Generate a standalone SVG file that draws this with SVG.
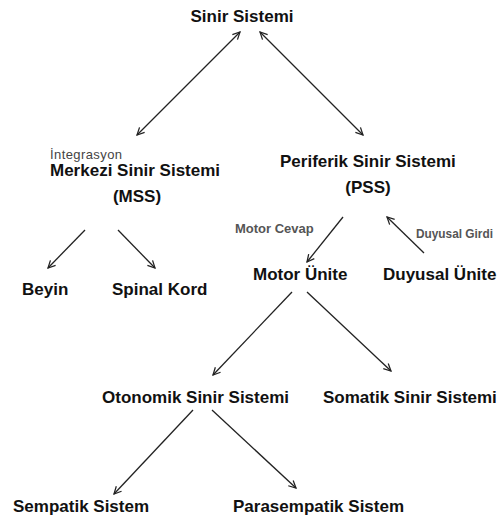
<svg xmlns="http://www.w3.org/2000/svg" width="499" height="522" viewBox="0 0 499 522">
<style>
.t{font-family:"Liberation Sans",Arial,sans-serif;font-weight:bold;font-size:17px;fill:#111}
.s{font-family:"Liberation Sans",Arial,sans-serif;font-weight:bold;font-size:13px;fill:#555}
.r{font-family:"Liberation Sans",Arial,sans-serif;font-size:13px;fill:#444}
.c line{stroke:#222;stroke-width:1.3;fill:none}
</style>
<defs>
<marker id="a" viewBox="0 0 10 10" refX="9" refY="5" markerWidth="9" markerHeight="9" markerUnits="userSpaceOnUse" orient="auto-start-reverse">
<path d="M1,1 L9,5 L1,9" fill="none" stroke="#222" stroke-width="1.4"/>
</marker>
</defs>
<rect width="499" height="522" fill="#fff"/>
<g id="n-sinir"><text class="t" x="242" y="22" text-anchor="middle">Sinir Sistemi</text></g>
<g id="n-mss"><text class="r" x="50" y="159" textLength="72">İntegrasyon</text>
<text class="t" x="50" y="176">Merkezi Sinir Sistemi</text>
<text class="t" x="137" y="202" text-anchor="middle">(MSS)</text></g>
<g id="n-pss"><text class="t" x="280" y="167">Periferik Sinir Sistemi</text>
<text class="t" x="368" y="193" text-anchor="middle">(PSS)</text></g>
<g id="n-beyin"><text class="t" x="22" y="295">Beyin</text></g>
<g id="n-spinal"><text class="t" x="112" y="295">Spinal Kord</text></g>
<g id="n-motor"><text class="s" x="235" y="233">Motor Cevap</text>
<text class="t" x="253" y="280">Motor Ünite</text></g>
<g id="n-duyusal"><text class="s" x="416" y="238" textLength="77" lengthAdjust="spacingAndGlyphs">Duyusal Girdi</text>
<text class="t" x="383" y="280">Duyusal Ünite</text></g>
<g id="n-otonomik"><text class="t" x="102" y="403">Otonomik Sinir Sistemi</text></g>
<g id="n-somatik"><text class="t" x="323" y="403">Somatik Sinir Sistemi</text></g>
<g id="n-sempatik"><text class="t" x="13" y="512">Sempatik Sistem</text></g>
<g id="n-para"><text class="t" x="233" y="512">Parasempatik Sistem</text></g>
<g id="connectors" class="c">
<line x1="240" y1="32" x2="137" y2="135" marker-start="url(#a)" marker-end="url(#a)"/>
<line x1="260" y1="32" x2="363" y2="135" marker-start="url(#a)" marker-end="url(#a)"/>
<line x1="85" y1="230" x2="48" y2="268" marker-end="url(#a)"/>
<line x1="118" y1="230" x2="155" y2="268" marker-end="url(#a)"/>
<line x1="343" y1="217" x2="307" y2="262" marker-end="url(#a)"/>
<line x1="424" y1="253" x2="387" y2="217" marker-end="url(#a)"/>
<line x1="292" y1="292" x2="213" y2="375" marker-end="url(#a)"/>
<line x1="307" y1="292" x2="391" y2="371" marker-end="url(#a)"/>
<line x1="193" y1="410" x2="114" y2="494" marker-end="url(#a)"/>
<line x1="212" y1="410" x2="296" y2="488" marker-end="url(#a)"/>
</g>
</svg>
